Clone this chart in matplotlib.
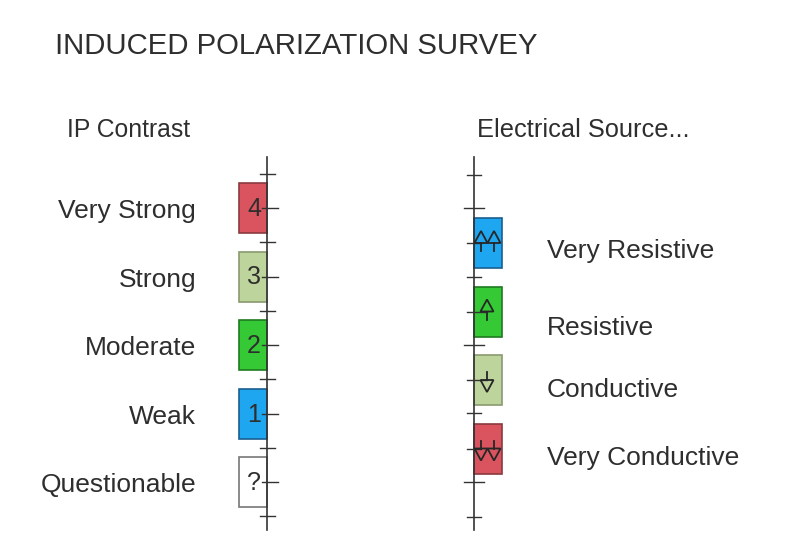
"""
Induced polarization survey legend: IP contrast scale and electrical source symbols.
Drawn in pixel coordinates on a single full-figure axes.
"""
import matplotlib
matplotlib.use("Agg")
import matplotlib.pyplot as plt
from matplotlib.patches import Rectangle, Polygon

# --- data ---
contrast_labels = ["Very Strong", "Strong", "Moderate", "Weak", "Questionable"]
contrast_codes = ["4", "3", "2", "1", "?"]
contrast_colors = ["#d9545f", "#bdd59c", "#35c935", "#1ea6f0", "#ffffff"]
contrast_edges = ["#8a3a40", "#8a9a70", "#1f7a1f", "#1a5f90", "#777777"]

source_labels = ["Very Resistive", "Resistive", "Conductive", "Very Conductive"]
source_arrows = [2, 1, -1, -2]          # count of arrows, sign = up (+) / down (-)
source_colors = ["#1ea6f0", "#35c935", "#bdd59c", "#d9545f"]
source_edges = ["#1a5f90", "#1f7a1f", "#8a9a70", "#8a3a40"]

TEXT = "#2e2e2e"
LINE = "#333333"
FONT = "Liberation Sans"

# --- layout (pixels) ---
STEP = 68.5
L_X, L_Y0 = 267, 208           # left axis line, first box centre
R_X, R_Y0 = 474, 243           # right axis line, first box centre
BOX_W, BOX_H = 28, 50


def main():
    fig = plt.figure(figsize=(7.92, 5.51), dpi=100)
    ax = fig.add_axes([0, 0, 1, 1])
    ax.set_xlim(0, 792)
    ax.set_ylim(551, 0)
    ax.axis("off")

    ax.text(55, 54, "INDUCED POLARIZATION SURVEY", fontsize=21.2, color=TEXT,
            family=FONT, va="baseline", ha="left")
    ax.text(67, 137, "IP Contrast", fontsize=17.8, color=TEXT,
            family=FONT, va="baseline", ha="left")
    ax.text(477, 137, "Electrical Source...", fontsize=18.3, color=TEXT,
            family=FONT, va="baseline", ha="left")

    # left column: IP contrast
    ax.plot([L_X, L_X], [157, 530], color=LINE, lw=1.2, zorder=3)
    for i in range(len(contrast_labels) + 1):
        y = L_Y0 - STEP / 2 + i * STEP
        ax.plot([L_X - 7, L_X + 8], [y, y], color=LINE, lw=1.0, zorder=3)
    for i, (lab, code, fc, ec) in enumerate(zip(contrast_labels, contrast_codes,
                                                 contrast_colors, contrast_edges)):
        yc = L_Y0 + i * STEP
        ax.add_patch(Rectangle((L_X - BOX_W, yc - BOX_H / 2), BOX_W, BOX_H,
                               facecolor=fc, edgecolor=ec, lw=1.2, zorder=2))
        ax.text(L_X - BOX_W / 2 + 1, yc + 1, code, fontsize=18, color=TEXT, family=FONT,
                ha="center", va="center", zorder=4)
        ax.plot([L_X - 5, L_X + 11], [yc, yc], color=LINE, lw=1.0, zorder=3)
        ax.text(196, yc + 10, lab, fontsize=19, color=TEXT, family=FONT,
                ha="right", va="baseline")

    # right column: electrical source
    ax.plot([R_X, R_X], [157, 530], color=LINE, lw=1.2, zorder=3)
    ticks = [175, 208, 277, 345, 413, 482, 517]
    for j, y in enumerate(ticks):
        half = 10 if j % 2 else 7
        ax.plot([R_X - half, R_X + half], [y, y], color=LINE, lw=1.0, zorder=3)
    label_base = [258, 335, 397, 465]
    for i, (lab, n, fc, ec) in enumerate(zip(source_labels, source_arrows,
                                              source_colors, source_edges)):
        yc = R_Y0 + i * STEP
        ax.add_patch(Rectangle((R_X, yc - BOX_H / 2), BOX_W, BOX_H,
                               facecolor=fc, edgecolor=ec, lw=1.2, zorder=2))
        xc = R_X + BOX_W / 2
        xs = [xc - 7, xc + 6] if abs(n) == 2 else [xc - 1]
        d = -1 if n > 0 else 1          # direction of apex in pixel y
        ax.plot([R_X - 7, xs[0]], [yc, yc], color=LINE, lw=1.0, zorder=3)
        for x in xs:
            ax.add_patch(Polygon([(x - 6.5, yc), (x + 6.5, yc), (x, yc + d * 12)],
                                 closed=True, fill=False, edgecolor="#262626",
                                 lw=1.3, zorder=4))
            ax.plot([x, x], [yc, yc - d * 8], color="#262626", lw=1.3, zorder=4)
        ax.text(547, label_base[i], lab, fontsize=19, color=TEXT, family=FONT,
                ha="left", va="baseline")

    fig.savefig("out.png", dpi=100)


if __name__ == "__main__":
    main()
